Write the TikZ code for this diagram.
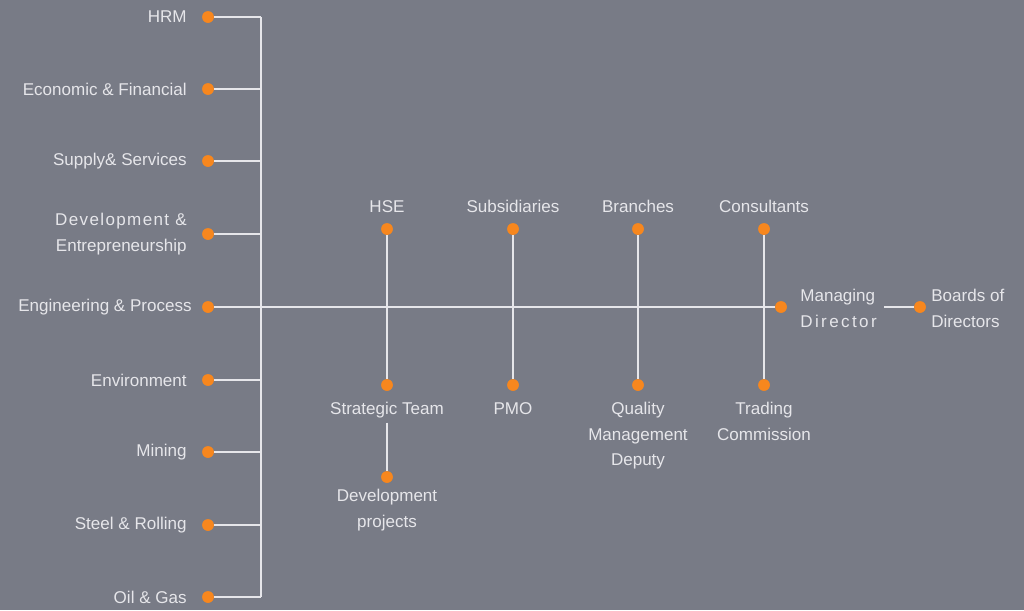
\documentclass[tikz,border=0pt]{standalone}
\usepackage{fontspec}
\setmainfont{Liberation Sans}
\definecolor{bggray}{RGB}{120,123,134}
\definecolor{dotorange}{RGB}{247,135,30}
\definecolor{linegray}{RGB}{230,230,234}

\begin{document}
\begin{tikzpicture}[x=0.02cm, y=-0.02cm,
  mydot/.style={circle, fill=dotorange, inner sep=0pt, minimum width=0.23cm},
  myline/.style={draw=linegray, line width=1.2pt},
  mylab/.style={text=linegray, font=\fontsize{9.7}{14.5}\selectfont, inner sep=0pt, align=center}]
  \fill[bggray] (0,0) rectangle (1024,610);

  % left column
  \draw (208,17) node[mydot] (hrm) {};
  \draw (208,89) node[mydot] (econ) {};
  \draw (208,161) node[mydot] (supply) {};
  \draw (208,234) node[mydot] (devent) {};
  \draw (208,307) node[mydot] (eng) {};
  \draw (208,380) node[mydot] (env) {};
  \draw (208,452) node[mydot] (mining) {};
  \draw (208,525) node[mydot] (steel) {};
  \draw (208,597) node[mydot] (oil) {};
  \coordinate (bustop) at (261,17);
  \coordinate (busbot) at (261,597);

  \draw (187,17) node[mylab, anchor=east] (thrm) {HRM};
  \draw (187,89) node[mylab, anchor=east] (tecon) {Economic \& Financial};
  \draw (187,161) node[mylab, anchor=east] (tsupply) {Supply\& Services};
  \draw (187,234) node[mylab, anchor=east, align=right] (tdevent)
    {{\addfontfeature{LetterSpace=8}Development \&}\\Entrepreneurship};
  \draw (192,307) node[mylab, anchor=east] (teng) {Engineering \& Process};
  \draw (187,380) node[mylab, anchor=east] (tenv) {Environment};
  \draw (187,452) node[mylab, anchor=east] (tmining) {Mining};
  \draw (187,525) node[mylab, anchor=east] (tsteel) {Steel \& Rolling};
  \draw (187,597) node[mylab, anchor=east] (toil) {Oil \& Gas};

  % top and bottom units
  \draw (387,229) node[mydot] (hse) {};
  \draw (513,229) node[mydot] (subs) {};
  \draw (638,229) node[mydot] (branch) {};
  \draw (764,229) node[mydot] (consult) {};
  \draw (387,385) node[mydot] (strat) {};
  \draw (513,385) node[mydot] (pmo) {};
  \draw (638,385) node[mydot] (quality) {};
  \draw (764,385) node[mydot] (trading) {};
  \draw (387,477) node[mydot] (devproj) {};

  \draw (387,212) node[mylab, anchor=base] (thse) {HSE};
  \draw (513,212) node[mylab, anchor=base] (tsubs) {Subsidiaries};
  \draw (638,212) node[mylab, anchor=base] (tbranch) {Branches};
  \draw (764,212) node[mylab, anchor=base] (tconsult) {Consultants};
  \draw (387,402) node[mylab, anchor=north] (tstrat) {Strategic Team};
  \draw (513,402) node[mylab, anchor=north] (tpmo) {PMO};
  \draw (638,402) node[mylab, anchor=north] (tquality) {Quality\\Management\\Deputy};
  \draw (764,402) node[mylab, anchor=north] (ttrading) {Trading\\Commission};
  \draw (387,489) node[mylab, anchor=north] (tdevproj) {Development\\projects};

  % top management
  \draw (781,307) node[mydot] (md) {};
  \draw (920,307) node[mydot] (bod) {};
  \draw (800,289) node[mylab, anchor=north west, align=left] (tmd)
    {Managing\\{\addfontfeature{LetterSpace=14}Director}};
  \draw (931,289) node[mylab, anchor=north west, align=left] (tbod) {Boards of\\Directors};

  % connectors
  \begin{scope}[on background layer/.try]
  \draw[myline] (bustop) -- (busbot);
  \draw[myline] (hrm) -- (hrm -| bustop);
  \draw[myline] (econ) -- (econ -| bustop);
  \draw[myline] (supply) -- (supply -| bustop);
  \draw[myline] (devent) -- (devent -| bustop);
  \draw[myline] (env) -- (env -| bustop);
  \draw[myline] (mining) -- (mining -| bustop);
  \draw[myline] (steel) -- (steel -| bustop);
  \draw[myline] (oil) -- (oil -| bustop);
  \draw[myline] (eng) -- (md);
  \draw[myline] (hse) -- (strat);
  \draw[myline] (subs) -- (pmo);
  \draw[myline] (branch) -- (quality);
  \draw[myline] (consult) -- (trading);
  \draw[myline] ([yshift=-0.08cm]tstrat.south) -- (devproj);
  \draw[myline] (884,307) -- (bod);
  \end{scope}

  % dots again on top of lines
  \foreach \d in {hrm,econ,supply,devent,eng,env,mining,steel,oil,hse,subs,branch,consult,strat,pmo,quality,trading,devproj,md,bod}
    \fill[dotorange] (\d) circle (0.115cm);
\end{tikzpicture}
\end{document}
